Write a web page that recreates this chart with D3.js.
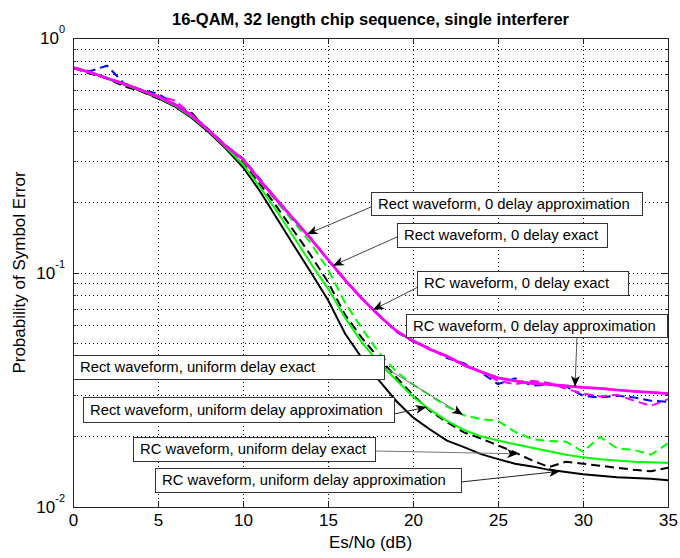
<!DOCTYPE html>
<html>
<head>
<meta charset="utf-8">
<script src="https://cdn.jsdelivr.net/npm/d3@7"></script>
<style>
  body { margin: 0; background: #fff; }
  text { font-family: "Liberation Sans", Arial, Helvetica, sans-serif; }
</style>
</head>
<body>
<svg id="chart" width="680" height="558"></svg>
<script>
// Es/No in dB, one point per dB
var esNo = [0,1,2,3,4,5,6,7,8,9,10,11,12,13,14,15,16,17,18,19,20,21,22,23,24,25,26,27,28,29,30,31,32,33,34,35];

// symbol error probability for each curve
var rectZeroApprox = [0.749,0.714,0.675,0.638,0.601,0.562,0.521,0.466,0.404,0.345,0.304,0.247,0.2035,0.1684,0.139,0.1137,0.0930,0.0774,0.0655,0.0565,0.0512,0.0471,0.0440,0.0404,0.0378,0.0356,0.0345,0.0337,0.0334,0.0329,0.0324,0.0321,0.0316,0.0312,0.0309,0.0305];
var rectZeroExact  = [0.749,0.722,0.762,0.640,0.602,0.579,0.522,0.469,0.406,0.348,0.306,0.250,0.204,0.169,0.139,0.113,0.0935,0.0770,0.0660,0.0560,0.0508,0.0475,0.0432,0.0410,0.0375,0.0334,0.0354,0.0329,0.0332,0.0327,0.0298,0.0293,0.0298,0.0293,0.0284,0.0281];
var rcZeroExact    = [0.748,0.716,0.676,0.641,0.600,0.566,0.541,0.470,0.405,0.347,0.305,0.248,0.205,0.168,0.140,0.1135,0.0928,0.0776,0.0652,0.0568,0.0510,0.0468,0.0442,0.0400,0.0377,0.0345,0.0334,0.0345,0.0338,0.0319,0.0305,0.0296,0.0301,0.0284,0.0270,0.0288];
var rcZeroApprox   = [0.749,0.713,0.674,0.637,0.600,0.561,0.520,0.465,0.403,0.344,0.303,0.246,0.203,0.168,0.1386,0.1134,0.0928,0.0772,0.0654,0.0564,0.0511,0.0470,0.0439,0.0403,0.0377,0.0355,0.0344,0.0336,0.0333,0.0328,0.0323,0.0320,0.0315,0.0311,0.0308,0.0304];
var rectUniformExact  = [0.748,0.716,0.674,0.636,0.598,0.560,0.518,0.462,0.402,0.343,0.301,0.245,0.199,0.164,0.133,0.103,0.0744,0.0576,0.0455,0.0379,0.0333,0.0299,0.0268,0.0246,0.0237,0.0233,0.0209,0.0195,0.0191,0.0190,0.0172,0.0199,0.0178,0.0175,0.0167,0.0187];
var rectUniformApprox = [0.749,0.713,0.673,0.635,0.597,0.558,0.515,0.460,0.400,0.341,0.289,0.231,0.182,0.141,0.109,0.0854,0.0642,0.0502,0.0412,0.0349,0.0295,0.0260,0.0233,0.0213,0.0200,0.0192,0.0185,0.0179,0.0173,0.0167,0.0163,0.0160,0.0158,0.0156,0.0155,0.0154];
var rcUniformExact    = [0.745,0.705,0.672,0.622,0.592,0.552,0.515,0.478,0.398,0.340,0.295,0.238,0.190,0.150,0.118,0.0911,0.0661,0.0525,0.0431,0.0359,0.0300,0.0257,0.0230,0.0208,0.0196,0.0183,0.0171,0.0158,0.0148,0.0156,0.0153,0.0150,0.0147,0.0144,0.0142,0.0147];
var rcUniformApprox   = [0.748,0.712,0.671,0.633,0.594,0.554,0.510,0.455,0.395,0.337,0.281,0.222,0.170,0.130,0.100,0.0763,0.0549,0.0431,0.0347,0.0284,0.0241,0.0214,0.0192,0.0180,0.0168,0.0160,0.0153,0.0149,0.0144,0.0141,0.0138,0.0136,0.0134,0.0133,0.0132,0.0130];

var labels = [
  "Rect waveform, 0 delay approximation",
  "Rect waveform, 0 delay exact",
  "RC waveform, 0 delay exact",
  "RC waveform, 0 delay approximation",
  "Rect waveform, uniform delay exact",
  "Rect waveform, uniform delay approximation",
  "RC waveform, uniform delay exact",
  "RC waveform, uniform delay approximation"
];

var xTicks = [0,5,10,15,20,25,30,35];
var yMajor = [1, 0.1, 0.01];
var yMinor = [0.9,0.8,0.7,0.6,0.5,0.4,0.3,0.2,0.09,0.08,0.07,0.06,0.05,0.04,0.03,0.02];
var yTickText = ["0", "-1", "-2"];   // exponents of the 10^k labels

var title = "16-QAM, 32 length chip sequence, single interferer";
var xTitle = "Es/No (dB)";
var yTitle = "Probability of Symbol Error";

// plot box in pixels (not "top": that name is taken by window.top)
var boxL = 73, boxR = 668, boxT = 38, boxB = 507;

var svg = d3.select("#chart");

var x = d3.scaleLinear().domain([0, 35]).range([boxL, boxR]);
var y = d3.scaleLog().domain([1, 0.01]).range([boxT, boxB]);

// matlab-ish: dotted grid at the x ticks and at every log step
var grid = svg.append("g")
  .attr("stroke", "#000")
  .attr("stroke-width", 1)
  .attr("stroke-dasharray", "1,3")
  .attr("shape-rendering", "crispEdges");
grid.selectAll("line.vx")
  .data(xTicks.filter(d => d > 0 && d < 35))
  .join("line")
  .attr("class", "vx")
  .attr("x1", d => Math.round(x(d)) + 0.5).attr("x2", d => Math.round(x(d)) + 0.5)
  .attr("y1", boxT).attr("y2", boxB);
grid.selectAll("line.hy")
  .data(yMinor.concat([0.1]))
  .join("line")
  .attr("class", "hy")
  .attr("y1", d => Math.round(y(d)) + 0.5).attr("y2", d => Math.round(y(d)) + 0.5)
  .attr("x1", boxL).attr("x2", boxR);

// curves, drawn in the order matlab stacked them
var series = [
  { values: rcUniformApprox,   color: "#000000", dash: null },
  { values: rcUniformExact,    color: "#000000", dash: "9,5" },
  { values: rectUniformApprox, color: "#00ff00", dash: null },
  { values: rectUniformExact,  color: "#00ff00", dash: "9,5" },
  { values: rectZeroExact,     color: "#0000ff", dash: "9,5" },
  { values: rcZeroExact,       color: "#ff00ff", dash: "9,5" },
  { values: rcZeroApprox,      color: "#ff00ff", dash: null },
  { values: rectZeroApprox,    color: "#ff00ff", dash: null }
];

svg.append("clipPath").attr("id", "plot-clip")
  .append("rect").attr("x", boxL).attr("y", boxT)
  .attr("width", boxR - boxL).attr("height", boxB - boxT);

var line = d3.line()
  .x((d, i) => x(esNo[i]))
  .y(d => y(d));

svg.append("g")
  .attr("clip-path", "url(#plot-clip)")
  .selectAll("path")
  .data(series)
  .join("path")
  .attr("fill", "none")
  .attr("stroke", d => d.color)
  .attr("stroke-width", d => d.color === "#ff00ff" && !d.dash ? 2.4 : 2)
  .attr("stroke-dasharray", d => d.dash)
  .attr("d", d => line(d.values));

// axes: ticks point inwards on all four sides
var axisColor = "#222";
function styleAxis(g) {
  g.attr("font-family", null);
  g.select(".domain").remove();
  g.selectAll(".tick line").attr("stroke", axisColor).attr("shape-rendering", "crispEdges");
  g.selectAll(".tick text").attr("fill", "#000").attr("font-size", 17);
}

svg.append("g")
  .attr("transform", "translate(0," + boxB + ")")
  .call(d3.axisBottom(x).tickValues(xTicks).tickSizeInner(-6).tickSizeOuter(0).tickPadding(7).tickFormat(d3.format("d")))
  .call(styleAxis);
svg.append("g")
  .attr("transform", "translate(0," + boxT + ")")
  .call(d3.axisTop(x).tickValues(xTicks).tickSizeInner(-6).tickSizeOuter(0).tickFormat(""))
  .call(styleAxis);

[[d3.axisLeft, boxL], [d3.axisRight, boxR]].forEach(function(side) {
  svg.append("g")
    .attr("transform", "translate(" + side[1] + ",0)")
    .call(side[0](y).tickValues(yMajor).tickSizeInner(-6).tickSizeOuter(0).tickFormat(""))
    .call(styleAxis);
  svg.append("g")
    .attr("transform", "translate(" + side[1] + ",0)")
    .call(side[0](y).tickValues(yMinor).tickSizeInner(-3).tickSizeOuter(0).tickFormat(""))
    .call(styleAxis);
});

// 10^k labels with a raised exponent
var yLab = svg.append("g").attr("text-anchor", "end");
yMajor.forEach(function(v, i) {
  var t = yLab.append("text")
    .attr("x", 65)
    .attr("y", y(v) + 6)
    .attr("font-size", 17);
  t.append("tspan").text("10");
  t.append("tspan").attr("dy", -11).attr("font-size", 11).text(yTickText[i]);
});

svg.append("rect")
  .attr("x", boxL + 0.5).attr("y", boxT + 0.5)
  .attr("width", boxR - boxL).attr("height", boxB - boxT)
  .attr("fill", "none").attr("stroke", axisColor)
  .attr("shape-rendering", "crispEdges");

// titles
svg.append("text")
  .attr("x", (boxL + boxR) / 2).attr("y", 25)
  .attr("text-anchor", "middle")
  .attr("font-size", 16.5).attr("font-weight", "bold")
  .text(title);
svg.append("text")
  .attr("x", (boxL + boxR) / 2).attr("y", 548)
  .attr("text-anchor", "middle")
  .attr("font-size", 17)
  .text(xTitle);
svg.append("text")
  .attr("transform", "translate(25," + (boxT + boxB) / 2 + ") rotate(-90)")
  .attr("text-anchor", "middle")
  .attr("font-size", 17)
  .text(yTitle);

// value of a curve between two sample points (log interpolation)
function valueAt(values, db) {
  var i = Math.min(Math.floor(db), esNo.length - 2);
  var t = db - esNo[i];
  return Math.exp((1 - t) * Math.log(values[i]) + t * Math.log(values[i + 1]));
}

// text arrows: box [x, y, w, h] in pixels, line start in pixels, tip on a curve at a given dB
var notes = [
  { text: labels[0], box: [371, 192, 271, 23], from: [371, 207], values: rectZeroApprox,    at: 13.76, color: "#444" },
  { text: labels[1], box: [397, 223, 210, 24], from: [397, 237], values: rectZeroExact,     at: 15.29, color: "#444" },
  { text: labels[2], box: [417, 271, 211, 24], from: [418, 287], values: rcZeroExact,       at: 17.65, color: "#444" },
  { text: labels[3], box: [406, 314, 261, 23], from: [577, 337], values: rcZeroApprox,      at: 29.53, color: "#555" },
  { text: labels[4], box: [73, 355, 311, 24],  from: [384, 367], values: rectUniformExact,  at: 22.94, color: "#777" },
  { text: labels[5], box: [83, 397, 311, 25],  from: [394, 414], values: rectUniformApprox, at: 20.8,  color: "#222" },
  { text: labels[6], box: [133, 437, 242, 24], from: [375, 451], values: rcUniformExact,    at: 26.18, color: "#777" },
  { text: labels[7], box: [155, 468, 306, 24], from: [461, 482], values: rcUniformApprox,   at: 28.65, color: "#222" }
];

var ann = svg.append("g");
notes.forEach(function(n) {
  var tx = x(n.at), ty = y(valueAt(n.values, n.at));
  var ang = Math.atan2(ty - n.from[1], tx - n.from[0]) * 180 / Math.PI;
  ann.append("line")
    .attr("x1", n.from[0]).attr("y1", n.from[1])
    .attr("x2", tx).attr("y2", ty)
    .attr("stroke", n.color).attr("stroke-width", 1);
  ann.append("path")
    .attr("d", "M0,0L-11,-4.5L-8,0L-11,4.5Z")
    .attr("fill", "#000")
    .attr("transform", "translate(" + tx + "," + ty + ") rotate(" + ang + ")");
  ann.append("rect")
    .attr("x", n.box[0] + 0.5).attr("y", n.box[1] + 0.5)
    .attr("width", n.box[2]).attr("height", n.box[3])
    .attr("fill", "#fff").attr("stroke", "#333")
    .attr("shape-rendering", "crispEdges");
  ann.append("text")
    .attr("x", n.box[0] + 7).attr("y", n.box[1] + n.box[3] / 2 + 5)
    .attr("font-size", 14.8)
    .text(n.text);
});
</script>
</body>
</html>
